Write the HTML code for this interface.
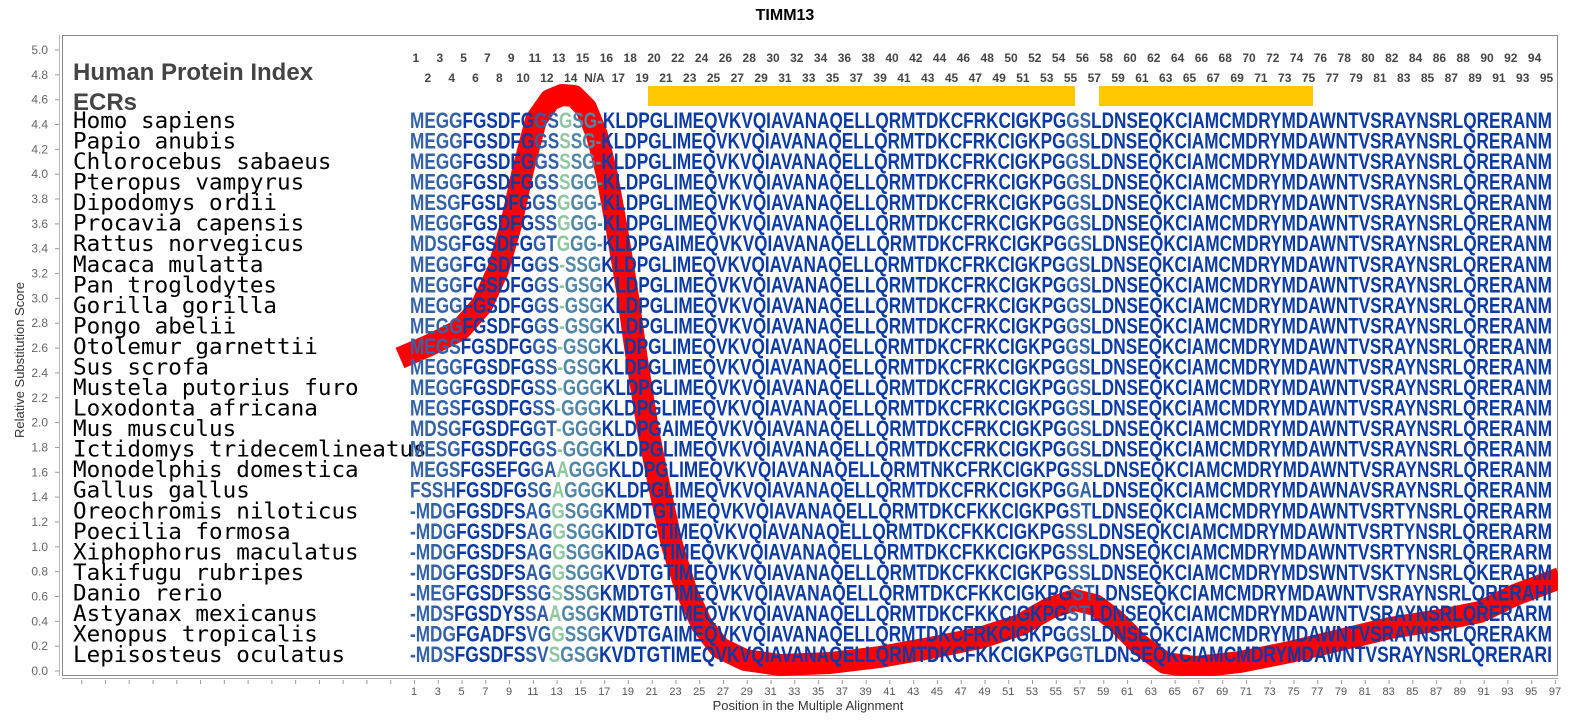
<!DOCTYPE html>
<html><head><meta charset="utf-8"><style>
html,body{margin:0;padding:0;background:#fff;}
svg{display:block;}
.yl{font:12px "Liberation Sans",sans-serif;fill:#666;text-anchor:end;}
.xl{font:11px "Liberation Sans",sans-serif;fill:#555;text-anchor:middle;}
.ix{font:bold 12px "Liberation Sans",sans-serif;fill:#444;text-anchor:middle;}
.sp{font:22.6px "DejaVu Sans Mono","Liberation Mono",monospace;fill:#000;}
.sq{font:bold 22px "Liberation Sans",sans-serif;fill:#0a3aa5;}
.a{fill:#3462a8}.c{fill:#2f5ea8}.g{fill:#8ec7a0}.h{fill:#4f86a8}.e{fill:#3465a8}
</style></head><body>
<svg width="1576" height="725" viewBox="0 0 1576 725" xmlns="http://www.w3.org/2000/svg">
<defs>
<pattern id="tk" x="9.9" y="0" width="23.77" height="10" patternUnits="userSpaceOnUse"><rect x="0" y="0" width="1" height="5" fill="#999"/></pattern>
<clipPath id="pc"><rect x="62" y="35" width="1496" height="641"/></clipPath>
</defs>
<text x="785" y="20" text-anchor="middle" style="font:bold 16px 'Liberation Sans',sans-serif;fill:#000">TIMM13</text>
<rect x="62.5" y="35.5" width="1495" height="640" fill="#fff" stroke="#888"/>
<line x1="59.5" y1="35" x2="59.5" y2="676" stroke="#bbb"/>
<g stroke="#999">
<line x1="55" y1="671" x2="59" y2="671"/><line x1="55" y1="646.2" x2="59" y2="646.2"/><line x1="55" y1="621.3" x2="59" y2="621.3"/><line x1="55" y1="596.5" x2="59" y2="596.5"/><line x1="55" y1="571.6" x2="59" y2="571.6"/><line x1="55" y1="546.8" x2="59" y2="546.8"/><line x1="55" y1="522" x2="59" y2="522"/><line x1="55" y1="497.1" x2="59" y2="497.1"/><line x1="55" y1="472.3" x2="59" y2="472.3"/><line x1="55" y1="447.4" x2="59" y2="447.4"/><line x1="55" y1="422.6" x2="59" y2="422.6"/><line x1="55" y1="397.8" x2="59" y2="397.8"/><line x1="55" y1="372.9" x2="59" y2="372.9"/><line x1="55" y1="348.1" x2="59" y2="348.1"/><line x1="55" y1="323.2" x2="59" y2="323.2"/><line x1="55" y1="298.4" x2="59" y2="298.4"/><line x1="55" y1="273.6" x2="59" y2="273.6"/><line x1="55" y1="248.7" x2="59" y2="248.7"/><line x1="55" y1="223.9" x2="59" y2="223.9"/><line x1="55" y1="199" x2="59" y2="199"/><line x1="55" y1="174.2" x2="59" y2="174.2"/><line x1="55" y1="149.4" x2="59" y2="149.4"/><line x1="55" y1="124.5" x2="59" y2="124.5"/><line x1="55" y1="99.7" x2="59" y2="99.7"/><line x1="55" y1="74.8" x2="59" y2="74.8"/><line x1="55" y1="50" x2="59" y2="50"/>
</g>
<g class="yl">
<text x="48" y="675">0.0</text><text x="48" y="650.2">0.2</text><text x="48" y="625.3">0.4</text><text x="48" y="600.5">0.6</text><text x="48" y="575.6">0.8</text><text x="48" y="550.8">1.0</text><text x="48" y="526">1.2</text><text x="48" y="501.1">1.4</text><text x="48" y="476.3">1.6</text><text x="48" y="451.4">1.8</text><text x="48" y="426.6">2.0</text><text x="48" y="401.8">2.2</text><text x="48" y="376.9">2.4</text><text x="48" y="352.1">2.6</text><text x="48" y="327.2">2.8</text><text x="48" y="302.4">3.0</text><text x="48" y="277.6">3.2</text><text x="48" y="252.7">3.4</text><text x="48" y="227.9">3.6</text><text x="48" y="203">3.8</text><text x="48" y="178.2">4.0</text><text x="48" y="153.4">4.2</text><text x="48" y="128.5">4.4</text><text x="48" y="103.7">4.6</text><text x="48" y="78.8">4.8</text><text x="48" y="54">5.0</text>
</g>
<text transform="translate(24,360) rotate(-90)" text-anchor="middle" style="font:13px 'Liberation Sans',sans-serif;fill:#333">Relative Substitution Score</text>
<line x1="62" y1="678.5" x2="1558" y2="678.5" stroke="#aaa"/>
<rect x="62" y="679" width="1496" height="5" fill="url(#tk)"/>
<g class="xl">
<text x="414" y="695">1</text><text x="437.8" y="695">3</text><text x="461.5" y="695">5</text><text x="485.3" y="695">7</text><text x="509.1" y="695">9</text><text x="532.9" y="695">11</text><text x="556.6" y="695">13</text><text x="580.4" y="695">15</text><text x="604.2" y="695">17</text><text x="627.9" y="695">19</text><text x="651.7" y="695">21</text><text x="675.5" y="695">23</text><text x="699.2" y="695">25</text><text x="723" y="695">27</text><text x="746.8" y="695">29</text><text x="770.6" y="695">31</text><text x="794.3" y="695">33</text><text x="818.1" y="695">35</text><text x="841.9" y="695">37</text><text x="865.6" y="695">39</text><text x="889.4" y="695">41</text><text x="913.2" y="695">43</text><text x="936.9" y="695">45</text><text x="960.7" y="695">47</text><text x="984.5" y="695">49</text><text x="1008.3" y="695">51</text><text x="1032" y="695">53</text><text x="1055.8" y="695">55</text><text x="1079.6" y="695">57</text><text x="1103.3" y="695">59</text><text x="1127.1" y="695">61</text><text x="1150.9" y="695">63</text><text x="1174.6" y="695">65</text><text x="1198.4" y="695">67</text><text x="1222.2" y="695">69</text><text x="1246" y="695">71</text><text x="1269.7" y="695">73</text><text x="1293.5" y="695">75</text><text x="1317.3" y="695">77</text><text x="1341" y="695">79</text><text x="1364.8" y="695">81</text><text x="1388.6" y="695">83</text><text x="1412.3" y="695">85</text><text x="1436.1" y="695">87</text><text x="1459.9" y="695">89</text><text x="1483.7" y="695">91</text><text x="1507.4" y="695">93</text><text x="1531.2" y="695">95</text><text x="1555" y="695">97</text>
</g>
<text x="808" y="710" text-anchor="middle" style="font:13px 'Liberation Sans',sans-serif;fill:#333">Position in the Multiple Alignment</text>

<rect x="648" y="86" width="427" height="20" fill="#ffc800"/>
<rect x="1099" y="86" width="214" height="20" fill="#ffc800"/>

<g clip-path="url(#pc)">
<polyline fill="none" stroke="#ff0000" stroke-width="22" stroke-linejoin="round" points="400,358 430,345 460,330 482,305 498,270 511,225 523,170 536,120 550,100 562,95 574,96 586,108 597,135 607,175 617,230 627,290 637,360 648,430 660,490 672,545 686,590 702,625 720,648 745,660 780,665 830,663 880,657 930,648 980,638 1020,625 1050,608 1075,600 1095,605 1115,620 1140,645 1165,663 1195,667 1240,662 1290,652 1340,640 1390,628 1440,620 1480,612 1515,595 1560,578"/>
</g>

<text x="73" y="80" style="font:bold 24px 'Liberation Sans',sans-serif;fill:#444">Human Protein Index</text>
<text x="73" y="110" style="font:bold 24px 'Liberation Sans',sans-serif;fill:#444">ECRs</text>

<g class="ix">
<text x="415.9" y="62">1</text><text x="439.8" y="62">3</text><text x="463.6" y="62">5</text><text x="487.4" y="62">7</text><text x="511.2" y="62">9</text><text x="535" y="62">11</text><text x="558.8" y="62">13</text><text x="582.6" y="62">15</text><text x="606.4" y="62">16</text><text x="630.2" y="62">18</text><text x="654" y="62">20</text><text x="677.8" y="62">22</text><text x="701.6" y="62">24</text><text x="725.4" y="62">26</text><text x="749.2" y="62">28</text><text x="773" y="62">30</text><text x="796.8" y="62">32</text><text x="820.6" y="62">34</text><text x="844.4" y="62">36</text><text x="868.2" y="62">38</text><text x="892" y="62">40</text><text x="915.8" y="62">42</text><text x="939.6" y="62">44</text><text x="963.4" y="62">46</text><text x="987.2" y="62">48</text><text x="1011" y="62">50</text><text x="1034.8" y="62">52</text><text x="1058.6" y="62">54</text><text x="1082.4" y="62">56</text><text x="1106.2" y="62">58</text><text x="1130" y="62">60</text><text x="1153.8" y="62">62</text><text x="1177.6" y="62">64</text><text x="1201.4" y="62">66</text><text x="1225.2" y="62">68</text><text x="1249" y="62">70</text><text x="1272.8" y="62">72</text><text x="1296.6" y="62">74</text><text x="1320.4" y="62">76</text><text x="1344.2" y="62">78</text><text x="1368" y="62">80</text><text x="1391.8" y="62">82</text><text x="1415.6" y="62">84</text><text x="1439.4" y="62">86</text><text x="1463.2" y="62">88</text><text x="1487" y="62">90</text><text x="1510.8" y="62">92</text><text x="1534.6" y="62">94</text>
<text x="427.8" y="82">2</text><text x="451.7" y="82">4</text><text x="475.5" y="82">6</text><text x="499.3" y="82">8</text><text x="523.1" y="82">10</text><text x="546.9" y="82">12</text><text x="570.7" y="82">14</text><text x="594.5" y="82">N/A</text><text x="618.3" y="82">17</text><text x="642.1" y="82">19</text><text x="665.9" y="82">21</text><text x="689.7" y="82">23</text><text x="713.5" y="82">25</text><text x="737.3" y="82">27</text><text x="761.1" y="82">29</text><text x="784.9" y="82">31</text><text x="808.7" y="82">33</text><text x="832.5" y="82">35</text><text x="856.3" y="82">37</text><text x="880.1" y="82">39</text><text x="903.9" y="82">41</text><text x="927.7" y="82">43</text><text x="951.5" y="82">45</text><text x="975.3" y="82">47</text><text x="999.1" y="82">49</text><text x="1022.9" y="82">51</text><text x="1046.7" y="82">53</text><text x="1070.5" y="82">55</text><text x="1094.3" y="82">57</text><text x="1118.1" y="82">59</text><text x="1141.9" y="82">61</text><text x="1165.7" y="82">63</text><text x="1189.5" y="82">65</text><text x="1213.3" y="82">67</text><text x="1237.1" y="82">69</text><text x="1260.9" y="82">71</text><text x="1284.7" y="82">73</text><text x="1308.5" y="82">75</text><text x="1332.3" y="82">77</text><text x="1356.1" y="82">79</text><text x="1379.9" y="82">81</text><text x="1403.7" y="82">83</text><text x="1427.5" y="82">85</text><text x="1451.3" y="82">87</text><text x="1475.1" y="82">89</text><text x="1498.9" y="82">91</text><text x="1522.7" y="82">93</text><text x="1546.5" y="82">95</text>
</g>

<g class="sp">
<text x="73" y="128">Homo sapiens</text>
<text x="73" y="148.5">Papio anubis</text>
<text x="73" y="169.1">Chlorocebus sabaeus</text>
<text x="73" y="189.6">Pteropus vampyrus</text>
<text x="73" y="210.2">Dipodomys ordii</text>
<text x="73" y="230.7">Procavia capensis</text>
<text x="73" y="251.2">Rattus norvegicus</text>
<text x="73" y="271.8">Macaca mulatta</text>
<text x="73" y="292.3">Pan troglodytes</text>
<text x="73" y="312.9">Gorilla gorilla</text>
<text x="73" y="333.4">Pongo abelii</text>
<text x="73" y="353.9">Otolemur garnettii</text>
<text x="73" y="374.5">Sus scrofa</text>
<text x="73" y="395">Mustela putorius furo</text>
<text x="73" y="415.6">Loxodonta africana</text>
<text x="73" y="436.1">Mus musculus</text>
<text x="73" y="456.6">Ictidomys tridecemlineatus</text>
<text x="73" y="477.2">Monodelphis domestica</text>
<text x="73" y="497.7">Gallus gallus</text>
<text x="73" y="518.3">Oreochromis niloticus</text>
<text x="73" y="538.8">Poecilia formosa</text>
<text x="73" y="559.3">Xiphophorus maculatus</text>
<text x="73" y="579.9">Takifugu rubripes</text>
<text x="73" y="600.4">Danio rerio</text>
<text x="73" y="621">Astyanax mexicanus</text>
<text x="73" y="641.5">Xenopus tropicalis</text>
<text x="73" y="662">Lepisosteus oculatus</text>
</g>

<g class="sq">
<text x="410" y="128" textLength="1142" lengthAdjust="spacingAndGlyphs"><tspan class="a">MEGG</tspan>FGSDFG<tspan class="c">GS</tspan><tspan class="g">G</tspan><tspan class="h">SG-</tspan>KLDPGLIMEQVKVQIAVANAQELLQRMTDKCFRKCIGKPG<tspan class="e">GS</tspan>LDNSEQKCIAMCMDRYMDAWNTVSRAYNSRLQRERANM</text>
<text x="410" y="148.5" textLength="1142" lengthAdjust="spacingAndGlyphs"><tspan class="a">MEGG</tspan>FGSDFG<tspan class="c">GS</tspan><tspan class="g">S</tspan><tspan class="h">SG-</tspan>KLDPGLIMEQVKVQIAVANAQELLQRMTDKCFRKCIGKPG<tspan class="e">GS</tspan>LDNSEQKCIAMCMDRYMDAWNTVSRAYNSRLQRERANM</text>
<text x="410" y="169.1" textLength="1142" lengthAdjust="spacingAndGlyphs"><tspan class="a">MEGG</tspan>FGSDFG<tspan class="c">GS</tspan><tspan class="g">S</tspan><tspan class="h">SG-</tspan>KLDPGLIMEQVKVQIAVANAQELLQRMTDKCFRKCIGKPG<tspan class="e">GS</tspan>LDNSEQKCIAMCMDRYMDAWNTVSRAYNSRLQRERANM</text>
<text x="410" y="189.6" textLength="1142" lengthAdjust="spacingAndGlyphs"><tspan class="a">MEGG</tspan>FGSDFG<tspan class="c">GS</tspan><tspan class="g">S</tspan><tspan class="h">GG-</tspan>KLDPGLIMEQVKVQIAVANAQELLQRMTDKCFRKCIGKPG<tspan class="e">GS</tspan>LDNSEQKCIAMCMDRYMDAWNTVSRAYNSRLQRERANM</text>
<text x="410" y="210.2" textLength="1142" lengthAdjust="spacingAndGlyphs"><tspan class="a">MESG</tspan>FGSDFG<tspan class="c">GS</tspan><tspan class="g">G</tspan><tspan class="h">GG-</tspan>KLDPGLIMEQVKVQIAVANAQELLQRMTDKCFRKCIGKPG<tspan class="e">GS</tspan>LDNSEQKCIAMCMDRYMDAWNTVSRAYNSRLQRERANM</text>
<text x="410" y="230.7" textLength="1142" lengthAdjust="spacingAndGlyphs"><tspan class="a">MEGG</tspan>FGSDFG<tspan class="c">SS</tspan><tspan class="g">G</tspan><tspan class="h">GG-</tspan>KLDPGLIMEQVKVQIAVANAQELLQRMTDKCFRKCIGKPG<tspan class="e">GS</tspan>LDNSEQKCIAMCMDRYMDAWNTVSRAYNSRLQRERANM</text>
<text x="410" y="251.2" textLength="1142" lengthAdjust="spacingAndGlyphs"><tspan class="a">MDSG</tspan>FGSDFG<tspan class="c">GT</tspan><tspan class="g">G</tspan><tspan class="h">GG-</tspan>KLDPGAIMEQVKVQIAVANAQELLQRMTDKCFRKCIGKPG<tspan class="e">GS</tspan>LDNSEQKCIAMCMDRYMDAWNTVSRAYNSRLQRERANM</text>
<text x="410" y="271.8" textLength="1142" lengthAdjust="spacingAndGlyphs"><tspan class="a">MEGG</tspan>FGSDFG<tspan class="c">GS</tspan><tspan class="g">-</tspan><tspan class="h">SSG</tspan>KLDPGLIMEQVKVQIAVANAQELLQRMTDKCFRKCIGKPG<tspan class="e">GS</tspan>LDNSEQKCIAMCMDRYMDAWNTVSRAYNSRLQRERANM</text>
<text x="410" y="292.3" textLength="1142" lengthAdjust="spacingAndGlyphs"><tspan class="a">MEGG</tspan>FGSDFG<tspan class="c">GS</tspan><tspan class="g">-</tspan><tspan class="h">GSG</tspan>KLDPGLIMEQVKVQIAVANAQELLQRMTDKCFRKCIGKPG<tspan class="e">GS</tspan>LDNSEQKCIAMCMDRYMDAWNTVSRAYNSRLQRERANM</text>
<text x="410" y="312.9" textLength="1142" lengthAdjust="spacingAndGlyphs"><tspan class="a">MEGG</tspan>FGSDFG<tspan class="c">GS</tspan><tspan class="g">-</tspan><tspan class="h">GSG</tspan>KLDPGLIMEQVKVQIAVANAQELLQRMTDKCFRKCIGKPG<tspan class="e">GS</tspan>LDNSEQKCIAMCMDRYMDAWNTVSRAYNSRLQRERANM</text>
<text x="410" y="333.4" textLength="1142" lengthAdjust="spacingAndGlyphs"><tspan class="a">MEGG</tspan>FGSDFG<tspan class="c">GS</tspan><tspan class="g">-</tspan><tspan class="h">GSG</tspan>KLDPGLIMEQVKVQIAVANAQELLQRMTDKCFRKCIGKPG<tspan class="e">GS</tspan>LDNSEQKCIAMCMDRYMDAWNTVSRAYNSRLQRERANM</text>
<text x="410" y="353.9" textLength="1142" lengthAdjust="spacingAndGlyphs"><tspan class="a">MEGS</tspan>FGSDFG<tspan class="c">GS</tspan><tspan class="g">-</tspan><tspan class="h">GSG</tspan>KLDPGLIMEQVKVQIAVANAQELLQRMTDKCFRKCIGKPG<tspan class="e">GS</tspan>LDNSEQKCIAMCMDRYMDAWNTVSRAYNSRLQRERANM</text>
<text x="410" y="374.5" textLength="1142" lengthAdjust="spacingAndGlyphs"><tspan class="a">MEGG</tspan>FGSDFG<tspan class="c">SS</tspan><tspan class="g">-</tspan><tspan class="h">GSG</tspan>KLDPGLIMEQVKVQIAVANAQELLQRMTDKCFRKCIGKPG<tspan class="e">GS</tspan>LDNSEQKCIAMCMDRYMDAWNTVSRAYNSRLQRERANM</text>
<text x="410" y="395" textLength="1142" lengthAdjust="spacingAndGlyphs"><tspan class="a">MEGG</tspan>FGSDFG<tspan class="c">SS</tspan><tspan class="g">-</tspan><tspan class="h">GGG</tspan>KLDPGLIMEQVKVQIAVANAQELLQRMTDKCFRKCIGKPG<tspan class="e">GS</tspan>LDNSEQKCIAMCMDRYMDAWNTVSRAYNSRLQRERANM</text>
<text x="410" y="415.6" textLength="1142" lengthAdjust="spacingAndGlyphs"><tspan class="a">MEGS</tspan>FGSDFG<tspan class="c">SS</tspan><tspan class="g">-</tspan><tspan class="h">GGG</tspan>KLDPGLIMEQVKVQIAVANAQELLQRMTDKCFRKCIGKPG<tspan class="e">GS</tspan>LDNSEQKCIAMCMDRYMDAWNTVSRAYNSRLQRERANM</text>
<text x="410" y="436.1" textLength="1142" lengthAdjust="spacingAndGlyphs"><tspan class="a">MDSG</tspan>FGSDFG<tspan class="c">GT</tspan><tspan class="g">-</tspan><tspan class="h">GGG</tspan>KLDPGAIMEQVKVQIAVANAQELLQRMTDKCFRKCIGKPG<tspan class="e">GS</tspan>LDNSEQKCIAMCMDRYMDAWNTVSRAYNSRLQRERANM</text>
<text x="410" y="456.6" textLength="1142" lengthAdjust="spacingAndGlyphs"><tspan class="a">MESG</tspan>FGSDFG<tspan class="c">GS</tspan><tspan class="g">-</tspan><tspan class="h">GGG</tspan>KLDPGLIMEQVKVQIAVANAQELLQRMTDKCFRKCIGKPG<tspan class="e">GS</tspan>LDNSEQKCIAMCMDRYMDAWNTVSRAYNSRLQRERANM</text>
<text x="410" y="477.2" textLength="1142" lengthAdjust="spacingAndGlyphs"><tspan class="a">MEGS</tspan>FGSEFG<tspan class="c">GA</tspan><tspan class="g">A</tspan><tspan class="h">GGG</tspan>KLDPGLIMEQVKVQIAVANAQELLQRMTNKCFRKCIGKPG<tspan class="e">SS</tspan>LDNSEQKCIAMCMDRYMDAWNTVSRAYNSRLQRERANM</text>
<text x="410" y="497.7" textLength="1142" lengthAdjust="spacingAndGlyphs"><tspan class="a">FSSH</tspan>FGSDFG<tspan class="c">SG</tspan><tspan class="g">A</tspan><tspan class="h">GGG</tspan>KLDPGLIMEQVKVQIAVANAQELLQRMTDKCFRKCIGKPG<tspan class="e">GA</tspan>LDNSEQKCIAMCMDRYMDAWNAVSRAYNSRLQRERANM</text>
<text x="410" y="518.3" textLength="1142" lengthAdjust="spacingAndGlyphs"><tspan class="a">-MDG</tspan>FGSDFS<tspan class="c">AG</tspan><tspan class="g">G</tspan><tspan class="h">SGG</tspan>KMDTGTIMEQVKVQIAVANAQELLQRMTDKCFKKCIGKPG<tspan class="e">ST</tspan>LDNSEQKCIAMCMDRYMDAWNTVSRTYNSRLQRERARM</text>
<text x="410" y="538.8" textLength="1142" lengthAdjust="spacingAndGlyphs"><tspan class="a">-MDG</tspan>FGSDFS<tspan class="c">AG</tspan><tspan class="g">G</tspan><tspan class="h">SGG</tspan>KIDTGTIMEQVKVQIAVANAQELLQRMTDKCFKKCIGKPG<tspan class="e">SS</tspan>LDNSEQKCIAMCMDRYMDAWNTVSRTYNSRLQRERARM</text>
<text x="410" y="559.3" textLength="1142" lengthAdjust="spacingAndGlyphs"><tspan class="a">-MDG</tspan>FGSDFS<tspan class="c">AG</tspan><tspan class="g">G</tspan><tspan class="h">SGG</tspan>KIDAGTIMEQVKVQIAVANAQELLQRMTDKCFKKCIGKPG<tspan class="e">SS</tspan>LDNSEQKCIAMCMDRYMDAWNTVSRTYNSRLQRERARM</text>
<text x="410" y="579.9" textLength="1142" lengthAdjust="spacingAndGlyphs"><tspan class="a">-MDG</tspan>FGSDFS<tspan class="c">AG</tspan><tspan class="g">G</tspan><tspan class="h">SGG</tspan>KVDTGTIMEQVKVQIAVANAQELLQRMTDKCFKKCIGKPG<tspan class="e">SS</tspan>LDNSEQKCIAMCMDRYMDSWNTVSKTYNSRLQKERARM</text>
<text x="410" y="600.4" textLength="1142" lengthAdjust="spacingAndGlyphs"><tspan class="a">-MEG</tspan>FGSDFS<tspan class="c">SG</tspan><tspan class="g">S</tspan><tspan class="h">SSG</tspan>KMDTGTIMEQVKVQIAVANAQELLQRMTDKCFKKCIGKPG<tspan class="e">ST</tspan>LDNSEQKCIAMCMDRYMDAWNTVSRAYNSRLQRERAHI</text>
<text x="410" y="621" textLength="1142" lengthAdjust="spacingAndGlyphs"><tspan class="a">-MDS</tspan>FGSDYS<tspan class="c">SA</tspan><tspan class="g">A</tspan><tspan class="h">GSG</tspan>KMDTGTIMEQVKVQIAVANAQELLQRMTDKCFKKCIGKPG<tspan class="e">ST</tspan>LDNSEQKCIAMCMDRYMDAWNTVSRAYNSRLQRERARM</text>
<text x="410" y="641.5" textLength="1142" lengthAdjust="spacingAndGlyphs"><tspan class="a">-MDG</tspan>FGADFS<tspan class="c">VG</tspan><tspan class="g">G</tspan><tspan class="h">SSG</tspan>KVDTGAIMEQVKVQIAVANAQELLQRMTDKCFRKCIGKPG<tspan class="e">GS</tspan>LDNSEQKCIAMCMDRYMDAWNTVSRAYNSRLQRERAKM</text>
<text x="410" y="662" textLength="1142" lengthAdjust="spacingAndGlyphs"><tspan class="a">-MDS</tspan>FGSDFS<tspan class="c">SV</tspan><tspan class="g">S</tspan><tspan class="h">GSG</tspan>KVDTGTIMEQVKVQIAVANAQELLQRMTDKCFKKCIGKPG<tspan class="e">GT</tspan>LDNSEQKCIAMCMDRYMDAWNTVSRAYNSRLQRERARI</text>
</g>
</svg>
</body></html>
